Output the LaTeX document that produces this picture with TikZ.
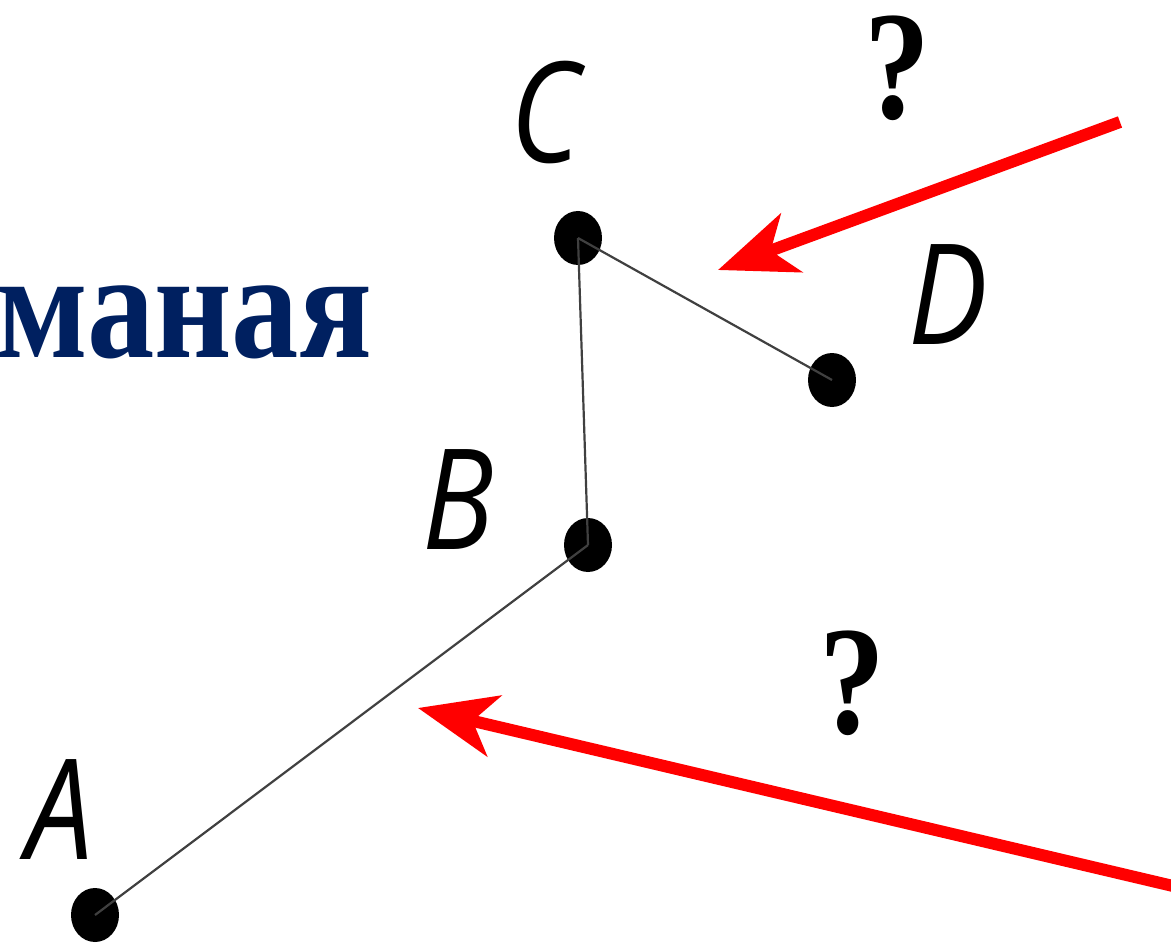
\documentclass[tikz,border=0pt]{standalone}
\usepackage{fontspec}
\setmainfont{Liberation Serif}
\setsansfont{Open Sans}
\usepackage{xcolor}
\usepackage{tikz}
\usetikzlibrary{positioning}
\usetikzlibrary{arrows.meta,shapes.geometric}
\definecolor{headblue}{RGB}{0,32,96}

\begin{document}
\begin{tikzpicture}[
            x=1pt,y=-1pt,
            dot/.style={ellipse,fill=black,draw=none,minimum width=48pt,minimum height=54pt,inner sep=0pt},
            segment/.style={draw=black!75,line width=2.2pt},
            ptlabel/.style={font=\sffamily\itshape\fontsize{140}{140}\selectfont,xscale=0.85,inner sep=0pt},
            qmark/.style={font=\rmfamily\bfseries\fontsize{155}{160}\selectfont,xscale=0.85,inner sep=0pt},
            pointer/.style={red,line width=12pt,-{Stealth[length=78pt,width=62pt,inset=22pt]}},
        ]
            \useasboundingbox (0,0) rectangle (1171,944);

            %--- Title (cut at the left edge) ---%
            \node[anchor=base west,xscale=0.88,inner sep=0pt,text=headblue,
                  font=\rmfamily\bfseries\fontsize{153}{160}\selectfont] (title) at (-4,357) {маная};

            %--- Points of the broken line ---%
            \node[dot] (A) at (95,915) {};
            \node[dot] (B) at (588,545) {};
            \node[dot] (C) at (578,238) {};
            \node[dot] (D) at (832,380) {};

            \node[ptlabel] (lA) at (60,810) {A};
            \node[ptlabel] (lB) at (458,500) {B};
            \node[ptlabel] (lC) at (545,112) {C};
            \node[ptlabel] (lD) at (948,295) {D};

            %--- Segments ---%
            \draw[segment] (A.center) -- (B.center);
            \draw[segment] (B.center) -- (C.center);
            \draw[segment] (C.center) -- (D.center);

            %--- Questions and pointers ---%
            \node[qmark] (q1) at (897,68) {?};
            \node[qmark] (q2) at (852,683) {?};

            \coordinate (s1) at (1120,122);
            \coordinate (t1) at (718,270);
            \coordinate (s2) at (1190,890);
            \coordinate (t2) at (418,708);
            \draw[pointer] (s1) -- (t1);
            \draw[pointer] (s2) -- (t2);

        \end{tikzpicture}
\end{document}
